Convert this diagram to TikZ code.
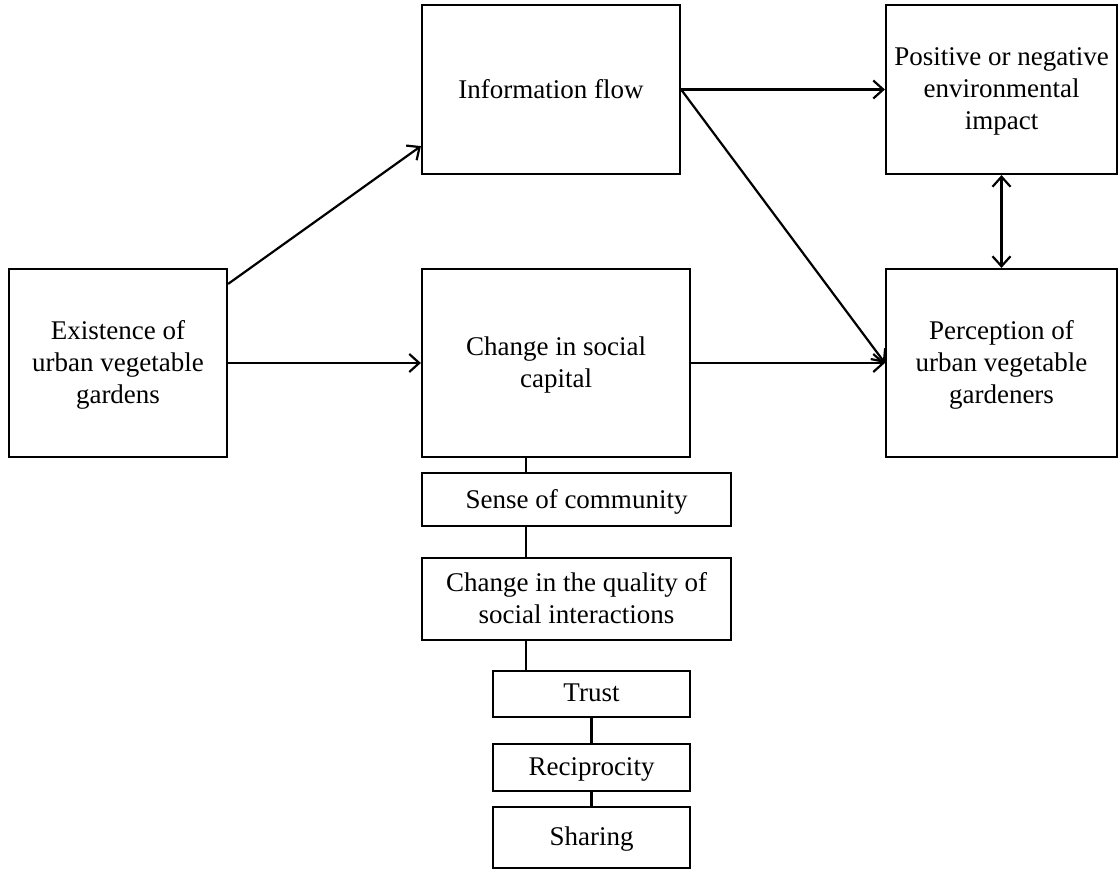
\documentclass[tikz,border=0pt]{standalone}
\usepackage{fontspec}
\setmainfont{Liberation Serif}
\usetikzlibrary{arrows.meta, positioning}

\begin{document}
\begin{tikzpicture}[
  x=1pt, y=-1pt,
  font=\fontsize{27}{32}\selectfont,
  box/.style={draw, line width=2.2pt, align=center, inner sep=2pt, text depth=2pt},
  ar/.style={-{Straight Barb[length=10pt, width=18pt, line width=2.2pt]}, line width=2.2pt},
  dar/.style={{Straight Barb[length=10pt, width=18pt, line width=2.2pt]}-{Straight Barb[length=10pt, width=18pt, line width=2.2pt]}, line width=2.2pt},
  ln/.style={line width=2.2pt}
]
\useasboundingbox (0,0) rectangle (1119,871);
% main boxes
\node[box, minimum width=218pt, minimum height=188pt] (ex) at (118,363) {Existence of\\urban vegetable\\gardens};
\node[box, minimum width=258pt, minimum height=169pt] (info) at (551,89.5) {Information flow};
\node[box, minimum width=268pt, minimum height=188pt] (soc) at (556,363) {Change in social\\capital};
\node[box, minimum width=231pt, minimum height=169pt] (pos) at (1001.5,89.5) {Positive or negative\\environmental\\impact};
\node[box, minimum width=231pt, minimum height=188pt] (perc) at (1001.5,363) {Perception of\\urban vegetable\\gardeners};
% social capital items
\node[box, minimum width=309pt, minimum height=53pt] (comm) at (576.5,499.5) {Sense of community};
\node[box, minimum width=309pt, minimum height=82pt] (qual) at (576.5,599) {Change in the quality of\\social interactions};
\node[box, minimum width=197pt, minimum height=46pt] (trust) at (591.5,694) {Trust};
\node[box, minimum width=197pt, minimum height=47pt] (recip) at (591.5,767.5) {Reciprocity};
\node[box, minimum width=197pt, minimum height=61pt] (share) at (591.5,837.5) {Sharing};
\coordinate (stem) at (526,0);
% arrows
\draw[ar] ([yshift=-16pt]ex.north east) -- ([yshift=29pt]info.south west);
\draw[ar] (ex) -- (soc);
\draw[ar] (info.east) -- (pos.west);
\draw[ar] (info.east) -- (perc.west);
\draw[ar] (soc) -- (perc);
\draw[dar] (pos.south) -- (perc.north);
% links
\foreach \a/\b in {soc/comm, comm/qual, qual/trust}{\draw[ln] (\a.south -| stem) -- (\b.north -| stem);}
\foreach \a/\b in {trust/recip, recip/share}{\draw[ln] (\a) -- (\b);}
\end{tikzpicture}
\end{document}
